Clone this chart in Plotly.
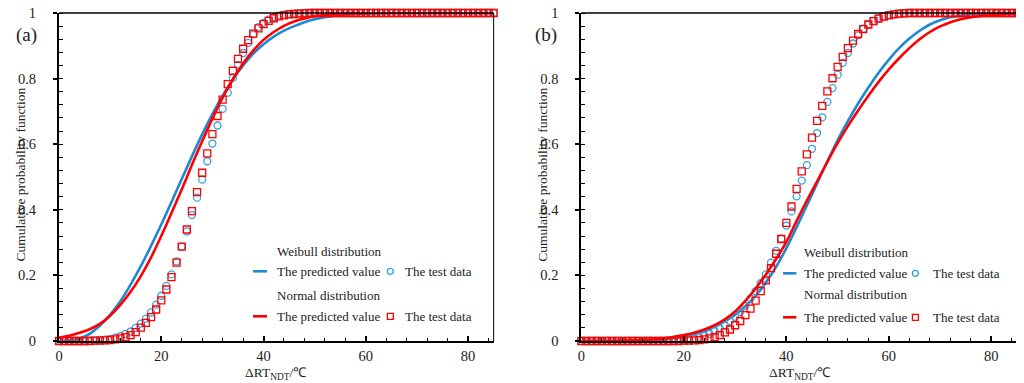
import plotly.graph_objects as go

# ---------------- data ----------------
x_test = list(range(0, 86))

# panel (a) test data
a_weibull_test = ([0.0] * 5 + [0.001, 0.001, 0.002, 0.003, 0.004] +
                  [0.006, 0.010, 0.015, 0.022, 0.029, 0.040, 0.053, 0.068, 0.087, 0.111,
                   0.138, 0.168, 0.203, 0.243, 0.288, 0.334, 0.384, 0.437, 0.492, 0.548,
                   0.602, 0.657, 0.708, 0.757, 0.802, 0.842, 0.878, 0.909, 0.935, 0.957,
                   0.970, 0.980, 0.987, 0.992, 0.995, 0.997, 0.998, 0.999] + [1.0] * 38)
a_normal_test = ([0.0] * 7 + [0.001, 0.001, 0.002] +
                 [0.003, 0.005, 0.008, 0.012, 0.018, 0.027, 0.041, 0.055, 0.073, 0.096,
                  0.124, 0.157, 0.195, 0.239, 0.288, 0.340, 0.396, 0.454, 0.513, 0.572,
                  0.631, 0.686, 0.736, 0.783, 0.824, 0.860, 0.891, 0.917, 0.937, 0.953,
                  0.966, 0.976, 0.984, 0.990, 0.993, 0.996, 0.997, 0.998, 0.999] + [1.0] * 37)

# panel (a) predicted curves
a_curve_x = [0, 2, 4, 6, 8, 10, 12, 14, 16, 18, 20, 22, 24, 26, 28, 30, 32, 34, 36, 38,
             40, 42, 44, 46, 48, 50, 54, 58, 62, 66, 70, 74, 78, 82, 85]
a_weibull_pred = [0.0, 0.0014, 0.008, 0.022, 0.047, 0.080, 0.121, 0.172, 0.228, 0.290,
                  0.355, 0.424, 0.494, 0.563, 0.630, 0.692, 0.748, 0.797, 0.840, 0.876,
                  0.905, 0.928, 0.946, 0.960, 0.972, 0.981, 0.992, 0.997, 0.999, 1.0,
                  1.0, 1.0, 1.0, 1.0, 1.0]
a_normal_pred = [0.010, 0.016, 0.025, 0.036, 0.052, 0.077, 0.110, 0.150, 0.198, 0.255,
                 0.320, 0.390, 0.462, 0.537, 0.609, 0.678, 0.742, 0.798, 0.846, 0.886,
                 0.918, 0.942, 0.961, 0.974, 0.983, 0.990, 0.996, 0.999, 1.0, 1.0,
                 1.0, 1.0, 1.0, 1.0, 1.0]

# panel (b) test data
b_weibull_test = ([0.0] * 18 + [0.001, 0.001] +
                  [0.002, 0.004, 0.007, 0.011, 0.016, 0.022, 0.030, 0.038, 0.048, 0.060,
                   0.074, 0.089, 0.107, 0.130, 0.152, 0.176, 0.203, 0.239, 0.275, 0.312,
                   0.352, 0.395, 0.441, 0.489, 0.536, 0.586, 0.634, 0.682, 0.729, 0.771,
                   0.812, 0.848, 0.878, 0.907, 0.932, 0.952, 0.965, 0.976, 0.984, 0.990,
                   0.994, 0.996, 0.998, 0.999] + [1.0] * 22)
b_normal_test = ([0.0] * 20 + [0.001, 0.001] +
                 [0.002, 0.003, 0.005, 0.008, 0.012, 0.018, 0.026, 0.035, 0.048, 0.061,
                  0.079, 0.099, 0.123, 0.152, 0.185, 0.222, 0.266, 0.311, 0.360, 0.410,
                  0.464, 0.517, 0.569, 0.620, 0.671, 0.717, 0.761, 0.801, 0.836, 0.866,
                  0.893, 0.916, 0.936, 0.951, 0.965, 0.975, 0.983, 0.989, 0.993, 0.996,
                  0.998, 0.999] + [1.0] * 22)

# panel (b) predicted curves
b_curve_x = [0, 5, 10, 15, 20, 22, 24, 26, 28, 30, 32, 34, 36, 38, 40, 42, 44, 46, 48, 50,
             52, 54, 56, 58, 60, 62, 64, 66, 68, 70, 72, 74, 76, 78, 80, 85]
b_weibull_pred = [0.0, 0.0001, 0.0006, 0.004, 0.0135, 0.021, 0.030, 0.043, 0.060, 0.080,
                  0.106, 0.138, 0.178, 0.226, 0.283, 0.347, 0.413, 0.480, 0.548, 0.612,
                  0.670, 0.724, 0.773, 0.818, 0.858, 0.893, 0.922, 0.946, 0.965, 0.978,
                  0.987, 0.992, 0.996, 0.998, 0.999, 1.0]
b_normal_pred = [0.0001, 0.0005, 0.002, 0.006, 0.018, 0.025, 0.035, 0.048, 0.066, 0.090,
                 0.122, 0.160, 0.203, 0.250, 0.302, 0.366, 0.428, 0.487, 0.546, 0.603,
                 0.655, 0.703, 0.748, 0.790, 0.828, 0.862, 0.893, 0.920, 0.942, 0.959,
                 0.972, 0.981, 0.987, 0.991, 0.994, 0.998]

x_ticks = [0, 20, 40, 60, 80]
y_ticks = [0, 0.2, 0.4, 0.6, 0.8, 1]
y_tick_text = ["0", "0.2", "0.4", "0.6", "0.8", "1"]
legend_headers = ["Weibull distribution", "Normal distribution"]
legend_pred = "The predicted value"
legend_test = "The test data"
panel_labels = ["(a)", "(b)"]
x_title = "ΔRT<sub>NDT</sub>/℃"
y_title = "Cumulative probability function"

# ---------------- style ----------------
OFF = 8  # page body margin: figure starts 8 px from the window corner
W, H = 1016, 375
ML, MR, MT, MB = 50.7, 7.4, 4.7, 42.3
PW, PH = W - ML - MR, H - MT - MB
FONT = "Liberation Serif, Times New Roman, serif"
BLUE_LINE = "#1E88D2"
BLUE_MARK = "#35A3DE"
RED = "#FF0000"
TXT = "#222222"


def px(xp):
    """window pixel x -> paper fraction"""
    return (xp - OFF - ML) / PW


def py(yp):
    """window pixel y -> paper fraction"""
    return (H - MB - (yp - OFF)) / PH


fig = go.Figure()

panels = [
    ("x", "y", a_curve_x, a_weibull_pred, a_normal_pred, a_weibull_test, a_normal_test),
    ("x2", "y2", b_curve_x, b_weibull_pred, b_normal_pred, b_weibull_test, b_normal_test),
]
for xa, ya, cx, wp, npred, wt, nt in panels:
    fig.add_trace(go.Scatter(x=cx, y=wp, mode="lines", line=dict(color=BLUE_LINE, width=2.6, shape="spline"),
                             xaxis=xa, yaxis=ya, showlegend=False))
    fig.add_trace(go.Scatter(x=x_test, y=wt, mode="markers",
                             marker=dict(symbol="circle-open", size=7, color=BLUE_MARK, line=dict(width=1.3)),
                             xaxis=xa, yaxis=ya, showlegend=False, cliponaxis=False))
    fig.add_trace(go.Scatter(x=cx, y=npred, mode="lines", line=dict(color=RED, width=2.6, shape="spline"),
                             xaxis=xa, yaxis=ya, showlegend=False))
    fig.add_trace(go.Scatter(x=x_test, y=nt, mode="markers",
                             marker=dict(symbol="square-open", size=7, color=RED, line=dict(width=1.3)),
                             xaxis=xa, yaxis=ya, showlegend=False, cliponaxis=False))

left_dom = [max(0.0, px(58.7)), px(493.3)]
right_dom = [px(581), min(1.0, px(1016.6))]

axis_common = dict(showgrid=False, zeroline=False, showline=True, linecolor="black", linewidth=2,
                   tickfont=dict(family=FONT, size=14.5, color=TXT), ticklabeloverflow="allow")
xcommon = dict(axis_common, range=[0, 85], tickvals=x_ticks, ticks="inside", ticklen=5, tickwidth=1.5,
               tickcolor="black", ticklabelstandoff=1,
               minor=dict(ticks="inside", dtick=4, tick0=0, ticklen=3, tickwidth=1, tickcolor="black"))
ycommon = dict(axis_common, range=[0, 1], tickvals=y_ticks, ticktext=y_tick_text,
               ticks="outside", ticklen=4, tickwidth=1.5, tickcolor="black", ticklabelstandoff=14,
               minor=dict(ticks="inside", dtick=0.04, tick0=0, ticklen=4, tickwidth=1, tickcolor="black"))

fig.update_layout(
    width=W, height=H,
    margin=dict(l=ML, r=MR, t=MT, b=MB, autoexpand=False),
    paper_bgcolor="white", plot_bgcolor="white",
    xaxis=dict(xcommon, domain=left_dom, anchor="y"),
    yaxis=dict(ycommon, domain=[0, 1], anchor="x"),
    xaxis2=dict(xcommon, domain=right_dom, anchor="y2"),
    yaxis2=dict(ycommon, domain=[0, 1], anchor="x2"),
    showlegend=False,
)

shapes = []
annotations = []
for xr, yr in [("x domain", "y domain"), ("x2 domain", "y2 domain")]:
    shapes.append(dict(type="line", xref=xr, yref=yr, x0=0, x1=1, y0=1, y1=1,
                       line=dict(color="black", width=1.5)))
    shapes.append(dict(type="line", xref=xr, yref=yr, x0=1, x1=1, y0=0, y1=1,
                       line=dict(color="black", width=1)))

# legends (window-pixel positions)
legend_specs = [
    # (line x0, line x1, text x, marker x, test text x, rows y)
    (252.7, 266.7, 275.0, 390.0, 403.0, (251.0, 271.0, 295.5, 316.0)),
    (782.7, 796.0, 801.7, 915.0, 930.5, (252.0, 273.0, 294.5, 317.0)),
]
for lx0, lx1, tx, mx, ttx, (yh1, yr1, yh2, yr2) in legend_specs:
    for header, yh, yrow, color, mcolor, mshape in [
        (legend_headers[0], yh1, yr1, BLUE_LINE, BLUE_MARK, "circle"),
        (legend_headers[1], yh2, yr2, RED, RED, "rect"),
    ]:
        for text, xx, yy in [(header, tx, yh), (legend_pred, tx, yrow), (legend_test, ttx, yrow)]:
            annotations.append(dict(x=px(xx), y=py(yy), xref="paper", yref="paper", text=text,
                                    showarrow=False, xanchor="left", yanchor="middle",
                                    font=dict(family=FONT, size=13, color=TXT)))
        shapes.append(dict(type="line", xref="paper", yref="paper", x0=px(lx0), x1=px(lx1),
                           y0=py(yrow), y1=py(yrow), line=dict(color=color, width=2.6)))
        shapes.append(dict(type=mshape, xref="paper", yref="paper", xsizemode="pixel", ysizemode="pixel",
                           xanchor=px(mx), yanchor=py(yrow), x0=-3, x1=3, y0=-3, y1=3,
                           line=dict(color=mcolor, width=1.3)))

# panel labels
for lbl, xpix in zip(panel_labels, [26.0, 545.5]):
    annotations.append(dict(x=px(xpix), y=py(35.0), xref="paper", yref="paper", text=lbl, showarrow=False,
                            xanchor="center", yanchor="middle", font=dict(family=FONT, size=19, color=TXT)))
# axis titles
for xpix in [20.0, 542.0]:
    annotations.append(dict(x=px(xpix), y=py(174.0), xref="paper", yref="paper", text=y_title,
                            showarrow=False, textangle=-90, xanchor="center", yanchor="middle",
                            font=dict(family=FONT, size=13.5, color=TXT)))
for xpix in [276.0, 800.0]:
    annotations.append(dict(x=px(xpix), y=py(373.0), xref="paper", yref="paper", text=x_title,
                            showarrow=False, xanchor="center", yanchor="middle",
                            font=dict(family=FONT, size=13.5, color=TXT)))

fig.update_layout(shapes=shapes, annotations=annotations)
fig.write_html("out.html")
